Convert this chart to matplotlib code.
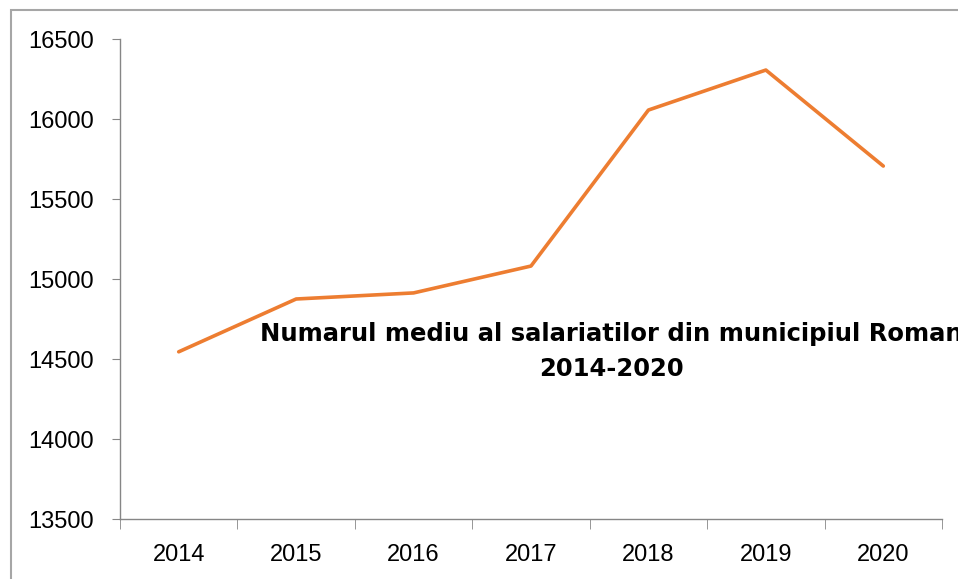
import matplotlib.pyplot as plt
from matplotlib.patches import Rectangle

years = ['2014', '2015', '2016', '2017', '2018', '2019', '2020']
employees = [14545, 14875, 14913, 15081, 16056, 16306, 15706]

fig = plt.figure(figsize=(9.58, 5.79), dpi=100)
ax = fig.add_axes([120 / 958, 60 / 579, 822 / 958, 480 / 579])

# outer chart-area frame (right and bottom edges fall outside the image)
fig.patches.append(Rectangle((11 / 958, -0.1), 1.2, (579 - 10) / 579 + 0.1,
                             transform=fig.transFigure, fill=False,
                             edgecolor='#a6a6a6', linewidth=1.5, clip_on=False))

x = list(range(len(years)))
ax.plot(x, employees, color='#ED7D31', linewidth=2.6, solid_capstyle='round')

ax.set_xlim(-0.5, len(years) - 0.5)
ax.set_ylim(13500, 16500)
ax.set_yticks(range(13500, 16501, 500))
ax.set_xticks(x)
ax.set_xticklabels(years)
ax.set_xticks([i - 0.5 for i in range(len(years) + 1)], minor=True)

for side in ['top', 'right']:
    ax.spines[side].set_visible(False)
for side in ['left', 'bottom']:
    ax.spines[side].set_color('#868686')
    ax.spines[side].set_linewidth(1.0)

ax.tick_params(axis='y', length=6, color='#868686', labelsize=17, pad=13)
ax.tick_params(axis='x', which='major', length=0, labelsize=17, pad=18)
ax.tick_params(axis='x', which='minor', length=7, color='#868686')
for lbl in ax.get_xticklabels() + ax.get_yticklabels():
    lbl.set_fontfamily('Liberation Sans')

fig.text(611 / 958, 1 - 334 / 579, 'Numarul mediu al salariatilor din municipiul Roman',
         ha='center', va='center', fontsize=17.5, fontweight='bold',
         fontfamily='DejaVu Sans')
fig.text(611 / 958, 1 - 369 / 579, '2014-2020',
         ha='center', va='center', fontsize=17.5, fontweight='bold',
         fontfamily='DejaVu Sans')

plt.savefig('out.png', dpi=100)
